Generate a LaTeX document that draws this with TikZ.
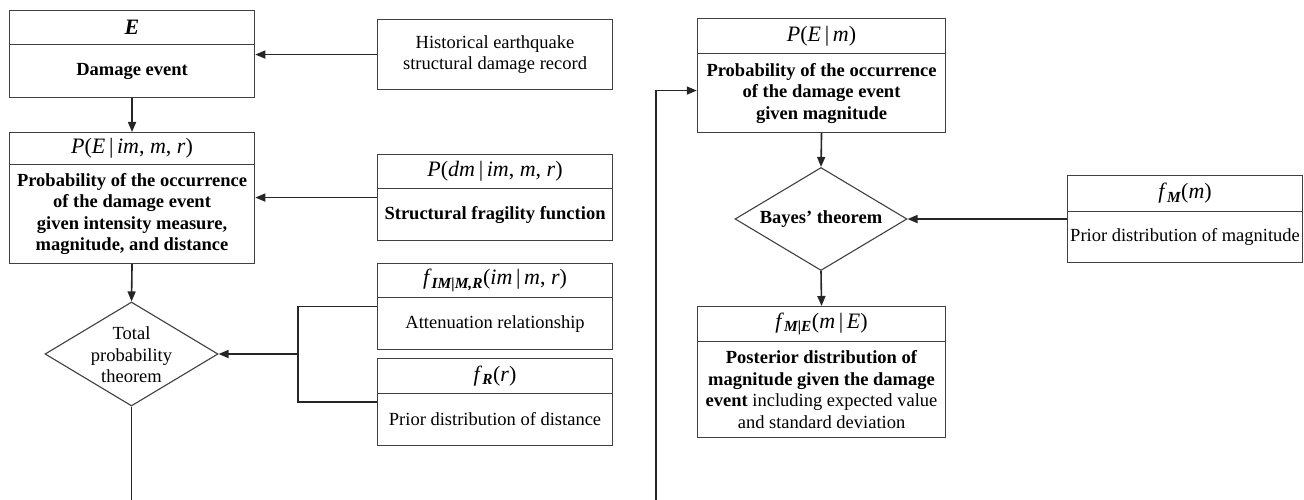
\documentclass[tikz,border=0pt]{standalone}
\usepackage{fontspec}
\setmainfont{Liberation Serif}
\usetikzlibrary{arrows.meta,shapes.geometric,fit}
\newcommand\bodyf{\fontsize{18.5}{21.5}\selectfont}
\newcommand\titf{\fontsize{22}{24}\selectfont}
\newcommand\bi[1]{\textbf{\textit{#1}}}
\newcommand\subs[1]{\textsubscript{\bfseries\itshape #1}}
\newcommand\givenbar{\,|\,}
\tikzset{
  frame/.style={draw=black!75, line width=1.1pt, inner sep=0pt, anchor=north west, align=center},
  hdr/.style={frame, font=\titf},
  bdy/.style={frame, font=\bodyf},
  dia/.style={draw=black!75, line width=1.1pt, diamond, inner sep=0pt},
  difont/.style={font=\bodyf, align=center, inner sep=0pt},
  grp/.style={inner sep=0pt, draw=none},
  conn/.style={draw=black!85, line width=1.6pt},
  arr/.style={conn, -{Triangle[length=10pt,width=8pt]}}
}
\begin{document}
\begin{tikzpicture}[x=1pt,y=-1pt]
\useasboundingbox (0,0) rectangle (1304,500);
% ---- left column
\node[hdr, minimum width=245, minimum height=34] (et) at (9,10) {\bi{E}};
\node[bdy, minimum width=245, minimum height=53] (eb) at (9,44) {\textbf{Damage event}};
\node[grp, fit=(et)(eb)] (e) {};
\node[bdy, minimum width=235, minimum height=70] (hist) at (377,19) {Historical earthquake\\structural damage record};

\node[hdr, minimum width=245, minimum height=32] (pt) at (9,132) {\textit{P}(\textit{E}\givenbar\textit{im}, \textit{m}, \textit{r})};
\node[bdy, minimum width=245, minimum height=99] (pb) at (9,164) {\textbf{Probability of the occurrence}\\\textbf{of the damage event}\\\textbf{given intensity measure,}\\\textbf{magnitude, and distance}};
\node[grp, fit=(pt)(pb)] (p) {};

\node[hdr, minimum width=235, minimum height=34] (pdmt) at (377,154) {\textit{P}(\textit{dm}\givenbar\textit{im}, \textit{m}, \textit{r})};
\node[bdy, minimum width=235, minimum height=52] (pdmb) at (377,188) {\textbf{Structural fragility function}};
\node[grp, fit=(pdmt)(pdmb)] (pdm) {};

\node[hdr, minimum width=235, minimum height=34] (fimt) at (377,263) {\textit{f}\subs{IM|M,R}(\textit{im}\givenbar\textit{m}, \textit{r})};
\node[bdy, minimum width=235, minimum height=52] (fimb) at (377,297) {Attenuation relationship};
\node[grp, fit=(fimt)(fimb)] (fim) {};

\node[hdr, minimum width=235, minimum height=35] (frt) at (377,358) {\textit{f}\subs{R}(\textit{r})};
\node[bdy, minimum width=235, minimum height=52] (frb) at (377,393) {Prior distribution of distance};
\node[grp, fit=(frt)(frb)] (fr) {};

\node[dia, minimum width=173, minimum height=104] (tp) at (131.5,354) {};
\node[difont] (tptext) at (131.5,355) {Total\\probability\\theorem};

\coordinate (br) at (298,354);
\coordinate (tpend) at (131.5,500);

\draw[arr] (hist.west) -- (hist.west -| e.east);
\draw[arr] (eb.south) -- (pt.north);
\draw[arr] (pdm.west) -- (pdm.west -| p.east);
\draw[arr] (pb.south) -- (tp.north);
\draw[conn] (fim.west) -| (br) |- (fr.west);
\draw[arr] (br) -- (tp.east);
\draw[conn] (tp.south) -- (tpend);

% ---- right column
\node[hdr, minimum width=248, minimum height=35] (pemt) at (697,18) {\textit{P}(\textit{E}\givenbar\textit{m})};
\node[bdy, minimum width=248, minimum height=79] (pemb) at (697,53) {\textbf{Probability of the occurrence}\\\textbf{of the damage event}\\\textbf{given magnitude}};
\node[grp, fit=(pemt)(pemb)] (pem) {};

\node[dia, minimum width=172, minimum height=103] (bay) at (821,219) {};
\node[difont] (baytext) at (821,219) {\textbf{Bayes’ theorem}};

\node[hdr, minimum width=235, minimum height=36] (fmt) at (1067,175) {\textit{f}\subs{M}(\textit{m})};
\node[bdy, minimum width=235, minimum height=51] (fmb) at (1067,211) {Prior distribution of magnitude};
\node[grp, fit=(fmt)(fmb)] (fm) {};

\node[hdr, minimum width=248, minimum height=35] (fmet) at (697,306) {\textit{f}\subs{M|E}(\textit{m}\givenbar\textit{E})};
\node[bdy, minimum width=248, minimum height=96] (fmeb) at (697,341) {\textbf{Posterior distribution of}\\\textbf{magnitude given the damage}\\\textbf{event} including expected value\\and standard deviation};
\node[grp, fit=(fmet)(fmeb)] (fme) {};

\coordinate (loopb) at (656,500);
\draw[arr] (loopb) |- ([yshift=-15pt]pem.west);
\draw[arr] (pemb.south) -- (bay.north);
\draw[arr] (fm.west) -- (fm.west -| bay.east);
\draw[arr] (bay.south) -- (fmet.north);
\end{tikzpicture}
\end{document}
